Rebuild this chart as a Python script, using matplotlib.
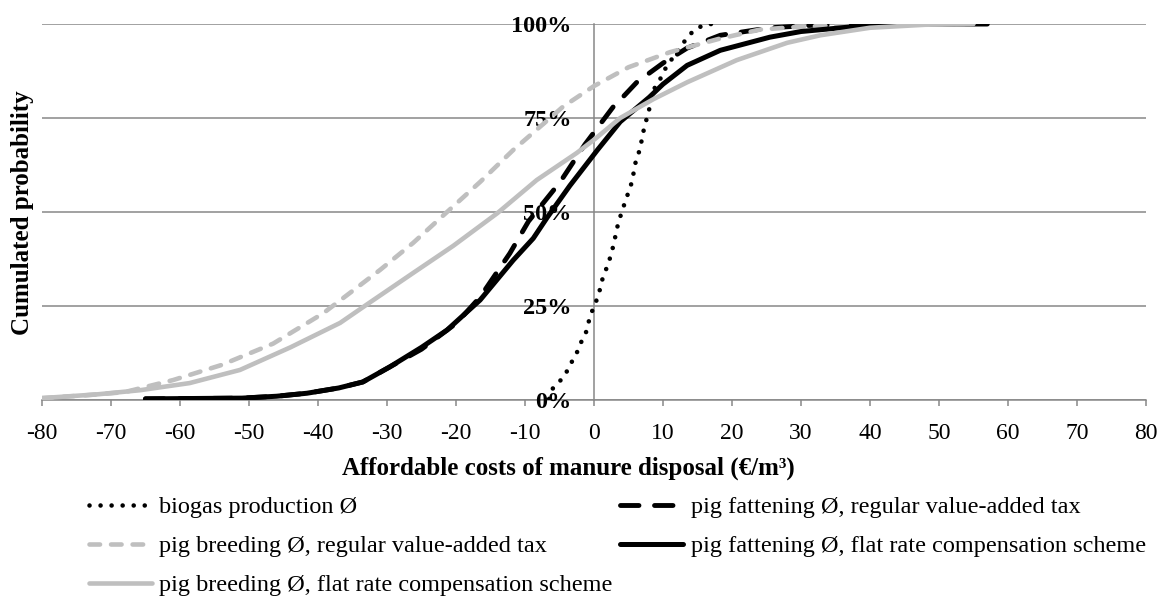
import numpy as np
import matplotlib
matplotlib.use('Agg')
import matplotlib.pyplot as plt

plt.rcParams['font.family'] = ['Liberation Serif', 'DejaVu Serif']
plt.rcParams['axes.unicode_minus'] = False

# biogas production
biogas_x = [-6.5, -6.0, -5.2, -4.2, -3.5, -2.6, -2.0, -1.3, -0.6, 0.0, 0.6, 1.2, 1.6, 2.2, 2.8,
            3.5, 4.2, 5.5, 6.0, 6.7, 7.1, 7.8, 8.4, 8.8, 9.8, 10.3, 12.5, 14.3, 15.8, 17.0]
biogas_y = [0.3, 3.0, 4.5, 6.6, 9.3, 12, 15, 17, 22, 25, 27.5, 32, 34, 37, 41,
            47, 51, 58, 63, 67, 71, 76, 80, 83, 86, 88, 94, 98, 99.7, 100]

# pig fattening, regular value-added tax
fatt_reg_x = [-65, -58, -51, -46, -41.6, -37, -33.5, -29.6, -25, -19.9, -16.5, -12.2, -9.5, -4.9,
              -1.3, 2.8, 4.2, 6.2, 10, 13.5, 18.3, 25.5, 32, 40, 45]
fatt_reg_y = [0.3, 0.4, 0.5, 1.0, 1.8, 3.2, 4.8, 8.8, 13.5, 20.5, 27.4, 39, 47.5, 58,
              68, 78, 80.6, 84.5, 89.6, 93.6, 97, 99, 99.7, 100, 100]

# pig breeding, regular value-added tax
breed_reg_x = [-80, -74, -68, -61, -54, -46.5, -39.3, -35, -31, -26.2, -21.3, -16.5, -11.7, -7.3,
               -4.5, 0, 5, 11, 18, 24, 30, 40, 55]
breed_reg_y = [0.5, 1.2, 2.1, 5.3, 9.3, 15, 23, 29, 34.6, 41.8, 50, 58, 66.5, 73.5,
               78, 83.5, 88.5, 92.5, 96, 98.5, 99.3, 99.9, 100]

# pig fattening, flat rate compensation scheme
fatt_flat_x = [-65, -58, -51, -46, -41.6, -37, -33.5, -29.6, -25, -21.3, -16.5, -11.7, -8.8, -6.8,
               -3.5, 0.5, 3.8, 8.0, 10, 13.5, 18.3, 25.5, 30, 40, 48, 57]
fatt_flat_y = [0.3, 0.4, 0.5, 1.0, 1.8, 3.2, 4.8, 8.8, 14, 18.6, 26.6, 37.2, 43, 48.5,
               57, 66.5, 74, 80.5, 84, 89, 93, 96.5, 98, 99.7, 100, 100]

# pig breeding, flat rate compensation scheme
breed_flat_x = [-80, -72, -65.8, -58.6, -51.3, -44, -36.8, -32.6, -26.2, -20.4, -14, -8.3, -2.5,
                0.2, 3.8, 8.6, 13.5, 20.7, 28, 32.8, 40, 48, 55]
breed_flat_y = [0.5, 1.5, 2.6, 4.5, 8, 14, 20.5, 25.8, 33.8, 41, 49.7, 58.5, 65.7,
                69.5, 75, 80, 84.5, 90.4, 95, 97, 99, 99.8, 100]

labels = ['biogas production Ø',
          'pig fattening Ø, regular value-added tax',
          'pig breeding Ø, regular value-added tax',
          'pig fattening Ø, flat rate compensation scheme',
          'pig breeding Ø, flat rate compensation scheme']

grey = '#BFBFBF'
axcol = '#878787'
fs = 17.5

fig = plt.figure(figsize=(11.64, 5.96), dpi=100)
ax = fig.add_axes([42 / 1164, 1 - 400 / 596, 1104 / 1164, 376 / 596])

h1, = ax.plot(biogas_x, biogas_y, color='black', lw=3.3, linestyle=(0, (0.01, 2.4)),
              dash_capstyle='round', label=labels[0])
h2, = ax.plot(fatt_reg_x, fatt_reg_y, color='black', lw=3.5, linestyle=(0, (3.8, 3.2)),
              dash_capstyle='round', solid_joinstyle='round', label=labels[1])
h3, = ax.plot(breed_reg_x, breed_reg_y, color=grey, lw=3.3, linestyle=(0, (2.3, 2.4)),
              dash_capstyle='round', label=labels[2])
h4, = ax.plot(fatt_flat_x, fatt_flat_y, color='black', lw=3.6, solid_capstyle='round',
              solid_joinstyle='round', label=labels[3])
h5, = ax.plot(breed_flat_x, breed_flat_y, color=grey, lw=3.3, solid_capstyle='round',
              solid_joinstyle='round', label=labels[4])

ax.set_xlim(-80, 80)
ax.set_ylim(0, 100)
ax.set_xticks(np.arange(-80, 81, 10))
ax.set_yticks([0, 25, 50, 75, 100])
ax.set_yticklabels(['0%', '25%', '50%', '75%', '100%'])

ax.spines['left'].set_position(('data', 0))
for s in ['top', 'right']:
    ax.spines[s].set_visible(False)
for s in ['left', 'bottom']:
    ax.spines[s].set_color(axcol)
    ax.spines[s].set_linewidth(1.1)
    ax.spines[s].set_zorder(0.5)

ax.yaxis.grid(True, color=axcol, lw=1.1, zorder=0)
ax.set_axisbelow(True)
ax.tick_params(axis='y', length=0, pad=16, labelsize=17.5)
ax.tick_params(axis='x', length=4.5, width=1.1, color=axcol, direction='out', pad=12, labelsize=17)
for t in ax.get_yticklabels():
    t.set_fontweight('bold')
    t.set_zorder(1)

fig.text(568 / 1164, 1 - 468 / 596, 'Affordable costs of manure disposal (€/m³)',
         ha='center', va='center', fontsize=18, fontweight='bold')
fig.text(23 / 1164, 1 - 213 / 596, 'Cumulated probability', rotation=90,
         ha='center', va='center', fontsize=18, fontweight='bold')

fig.legend([h1, h3, h5, h2, h4], [labels[0], labels[2], labels[4], labels[1], labels[3]],
           ncol=2, loc='upper left', bbox_to_anchor=(89 / 1164, 1 - 496 / 596),
           frameon=False, fontsize=fs, handlelength=2.6, handletextpad=0.3,
           columnspacing=0.3, labelspacing=0.7, borderpad=0, borderaxespad=0)

fig.savefig('out.png', dpi=100)
